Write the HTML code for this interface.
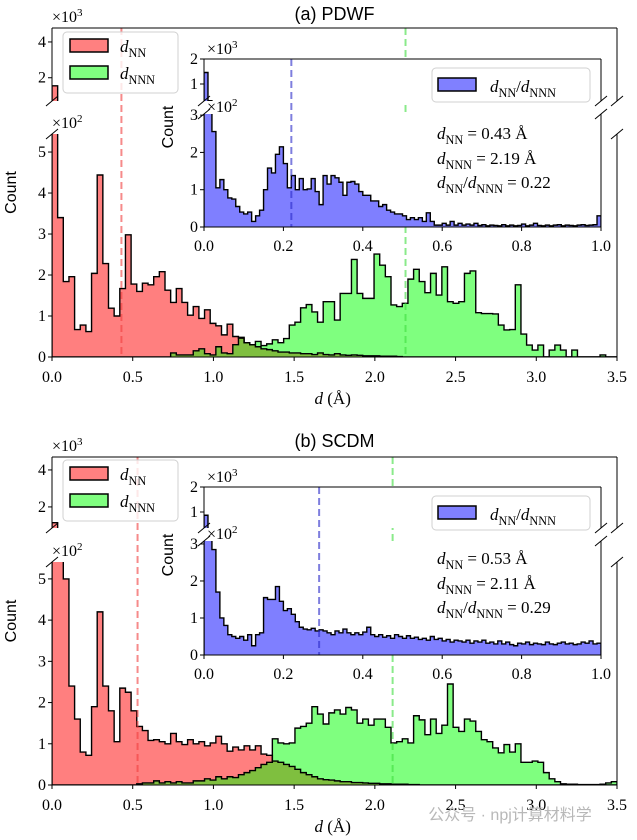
<!DOCTYPE html>
<html><head><meta charset="utf-8">
<style>
html,body{margin:0;padding:0;background:#fff;}
svg{display:block;}
text{font-family:"Liberation Serif",serif;}
.sans{font-family:"Liberation Sans","DejaVu Sans",sans-serif;}
</style></head>
<body>
<svg id="chart" width="637" height="840" viewBox="0 0 637 840" xmlns="http://www.w3.org/2000/svg"></svg>
<script>
// ---------- data (counts in hundreds, 100 bins each) ----------
const mainBinMax = 3.5;
const insetBinMax = 1.0;
const mainTicks = ["0.0","0.5","1.0","1.5","2.0","2.5","3.0","3.5"];
const mainTickVals = [0,0.5,1,1.5,2,2.5,3,3.5];
const insetTicks = ["0.0","0.2","0.4","0.6","0.8","1.0"];
const insetTickVals = [0,0.2,0.4,0.6,0.8,1.0];
const lowerYTicks = [0,1,2,3,4,5];
const upperYTicks = [2,4];
const insetLowerYTicks = [0,1,2,3];
const insetUpperYTicks = [1,2];

const pdwfNN = [15.5,3.4,1.84,1.96,0.67,0.78,0.62,2.04,4.44,2.28,1.19,1.0,1.67,2.98,1.78,1.6,1.8,1.76,1.96,2.08,1.63,1.33,1.67,1.33,1.02,1.23,0.94,1.15,0.82,0.76,0.54,0.8,0.5,0.46,0.35,0.3,0.25,0.2,0.18,0.15,0.12,0.12,0.1,0.1,0.08,0.08,0.06,0.1,0.06,0.05,0.08,0.05,0.04,0.05,0.04,0.03,0.03,0.03,0.02,0.02,0.02,0.01,0,0,0,0,0,0,0,0,0,0,0,0,0,0,0,0,0,0,0,0,0,0,0,0,0,0,0,0,0,0,0,0,0,0,0,0,0,0];
const pdwfNNN = [0,0,0,0,0,0,0,0,0,0,0,0,0,0,0,0,0,0,0,0,0,0.1,0.05,0.05,0.05,0.15,0.2,0.08,0.05,0.25,0.1,0.08,0.3,0.48,0.35,0.3,0.38,0.28,0.32,0.42,0.35,0.45,0.78,0.85,1.2,1.28,1.1,0.85,1.35,1.35,0.9,1.55,1.55,2.38,1.55,1.43,1.43,2.51,2.24,1.96,1.27,1.23,1.31,1.9,2.14,1.84,1.57,2.04,1.51,2.2,1.35,1.31,1.35,2.04,2.1,1.08,1.06,1.06,1.05,0.78,0.66,0.67,1.76,0.56,0.29,0.17,0.29,0,0.17,0.29,0.17,0,0.17,0,0,0,0,0.05,0,0];
const pdwfRatio = [14.6,3.3,2.56,1.05,1.27,1.0,0.78,0.75,0.55,0.4,0.35,0.4,0.15,0.3,0.45,1.0,1.58,1.45,1.95,2.15,1.7,1.05,1.38,1.0,1.3,1.0,1.02,1.3,0.95,0.6,1.38,1.15,1.38,1.32,1.2,0.85,1.2,1.22,1.15,0.95,0.85,0.85,0.7,0.7,0.55,0.6,0.45,0.4,0.35,0.35,0.3,0.2,0.25,0.2,0.25,0.15,0.38,0.15,0.05,0.05,0.1,0.05,0.15,0.05,0.1,0.05,0.08,0.05,0.1,0.04,0.06,0.03,0.05,0.04,0.03,0.06,0.03,0.05,0.03,0.04,0.08,0.03,0.05,0.1,0.04,0.03,0.05,0.03,0.05,0.06,0.03,0.05,0.04,0.03,0.05,0.06,0.04,0.05,0.06,0.3];

const scdmNN = [11.5,5.45,5.0,2.4,1.6,0.8,0.72,1.9,4.2,2.4,1.8,1.05,2.35,2.25,1.8,1.42,1.32,1.08,1.1,1.05,1.0,1.25,1.05,0.98,1.1,1.0,1.05,0.95,1.02,1.18,1.0,0.82,0.92,0.85,0.95,0.85,0.95,0.75,0.72,0.58,0.55,0.5,0.45,0.38,0.3,0.25,0.2,0.15,0.13,0.12,0.1,0.08,0.08,0.06,0.06,0.05,0.04,0.04,0.03,0.03,0.02,0.02,0.02,0.01,0.01,0,0,0,0,0,0,0,0,0,0,0,0,0,0,0,0,0,0,0,0,0,0,0,0,0,0,0,0,0,0,0,0,0,0,0];
const scdmNNN = [0,0,0,0,0,0,0,0,0,0,0,0,0,0,0,0.03,0.05,0.05,0.1,0.05,0.08,0.05,0.08,0.05,0.05,0.1,0.1,0.15,0.12,0.2,0.15,0.2,0.18,0.25,0.3,0.35,0.42,0.5,0.55,1.12,1.02,1.0,1.02,1.38,1.42,1.5,1.9,1.72,1.48,1.75,1.82,1.72,1.88,1.82,1.5,1.6,1.45,1.6,1.6,1.4,1.02,1.05,1.12,1.02,1.68,1.58,1.22,1.6,1.25,1.45,2.45,1.4,1.3,1.6,1.55,1.3,1.1,1.05,0.9,0.78,0.98,0.8,1.0,0.55,0.55,0.58,0.55,0.3,0.15,0.08,0.03,0.02,0.02,0.01,0.01,0.01,0.01,0.02,0.05,0.08];
const scdmRatio = [8.7,3.3,2.85,1.7,1.0,0.8,0.55,0.5,0.45,0.5,0.4,0.55,0.25,0.55,0.6,1.55,1.5,1.5,1.85,1.45,1.2,1.25,1.1,0.9,0.75,0.7,0.68,0.72,0.65,0.68,0.65,0.6,0.55,0.65,0.6,0.7,0.6,0.55,0.6,0.55,0.62,0.75,0.55,0.5,0.55,0.48,0.52,0.45,0.55,0.5,0.45,0.52,0.45,0.48,0.42,0.45,0.4,0.5,0.42,0.45,0.38,0.42,0.35,0.4,0.38,0.35,0.4,0.32,0.38,0.35,0.4,0.32,0.35,0.3,0.38,0.3,0.35,0.28,0.25,0.32,0.3,0.35,0.28,0.32,0.3,0.28,0.35,0.3,0.28,0.32,0.35,0.3,0.32,0.28,0.3,0.35,0.32,0.38,0.3,0.32];

const pdwfMeans = [0.43, 2.19, 0.22];
const scdmMeans = [0.53, 2.11, 0.29];

// ---------- drawing ----------
const svg = document.getElementById('chart');
const NS = 'http://www.w3.org/2000/svg';
let clipId = 0;
function el(tag, attrs, parent){
  const e = document.createElementNS(NS, tag);
  for (const k in attrs) e.setAttribute(k, attrs[k]);
  (parent||svg).appendChild(e);
  return e;
}
function txt(x,y,s,size,anchor,parent,cls){
  const t = el('text',{x:x,y:y,'font-size':size,'text-anchor':anchor||'middle',fill:'#000'},parent);
  if (cls) t.setAttribute('class',cls);
  t.textContent = s;
  return t;
}
function subText(parent,x,y,size,parts,anchor){
  const t = el('text',{x:x,y:y,'font-size':size,'text-anchor':anchor||'start',fill:'#000'},parent);
  let sub=false;
  parts.forEach(p=>{
    const s = document.createElementNS(NS,'tspan');
    if (p[1]) s.setAttribute('font-style','italic');
    if (p[2] && !sub){ s.setAttribute('dy', size*0.28); s.setAttribute('font-size', size*0.72); sub=true; }
    else if (!p[2] && sub){ s.setAttribute('dy', -size*0.28); sub=false; }
    else if (p[2]) s.setAttribute('font-size', size*0.72);
    s.textContent = p[0];
    t.appendChild(s);
  });
  return t;
}
function makeX(x0,x1,max){ return v => x0 + (x1-x0)*v/max; }
function makeY(seg){ return v => seg.bottom - (seg.bottom-seg.top)*(v-seg.vBot)/(seg.vTop-seg.vBot); }

function histPath(vals, X, Y, xmax, baseY){
  const n = vals.length, w = xmax/n;
  let d = 'M'+X(0)+','+baseY;
  for (let i=0;i<n;i++){
    const y = Math.min(Y(vals[i]), baseY);
    d += ' L'+X(i*w)+','+y+' L'+X((i+1)*w)+','+y;
  }
  d += ' L'+X(xmax)+','+baseY;
  return d;
}

function drawSegment(g, seg, X, xmax, series, isUpper, name){
  const id = 'clip'+(clipId++);
  const cp = el('clipPath',{id:id},g);
  el('rect',{x:seg.x0,y:seg.top,width:seg.x1-seg.x0,height:seg.bottom-seg.top},cp);
  const Y = makeY(seg);
  const hg = el('g',{'clip-path':'url(#'+id+')'},g);
  
  
  const base = isUpper ? seg.bottom+5 : Y(0);
  series.forEach(s=>{
    const p = el('path',{d:histPath(s.vals,X,Y,xmax,base),fill:s.fill,stroke:'none'},hg);
    
    
  });
  series.forEach(s=>{
    const p = el('path',{d:histPath(s.vals,X,Y,xmax,base),fill:'none',stroke:'#000','stroke-width':1.4},hg);
    
    
  });
  return Y;
}

function spines(g, seg, isUpper){
  const a = {stroke:'#000','stroke-width':1,fill:'none'};
  el('line',Object.assign({x1:seg.x0,y1:seg.top,x2:seg.x0,y2:seg.bottom},a),g);
  el('line',Object.assign({x1:seg.x1,y1:seg.top,x2:seg.x1,y2:seg.bottom},a),g);
  if (isUpper) el('line',Object.assign({x1:seg.x0,y1:seg.top,x2:seg.x1,y2:seg.top},a),g);
  else el('line',Object.assign({x1:seg.x0,y1:seg.bottom,x2:seg.x1,y2:seg.bottom},a),g);
  const yb = isUpper ? seg.bottom : seg.top;
  [seg.x0,seg.x1].forEach(x=>{
    el('line',{x1:x-6,y1:yb+5,x2:x+6,y2:yb-5,stroke:'#000','stroke-width':1},g);
  });
}

function yTicks(g, seg, ticks, Y, size){
  ticks.forEach(t=>{
    const y = Y(t);
    el('line',{x1:seg.x0-4,y1:y,x2:seg.x0,y2:y,stroke:'#000','stroke-width':1},g);
    const lb = txt(seg.x0-6,y+5,String(t),size,'end',g);
    
    
  });
}
function xTicks(g, seg, vals, labels, X, size, ly){
  vals.forEach((v,i)=>{
    const x = X(v);
    el('line',{x1:x,y1:seg.bottom,x2:x,y2:seg.bottom+4,stroke:'#000','stroke-width':1},g);
    const lb = txt(x,ly,labels[i],size,'middle',g);
    
    
  });
}
function offsetLabel(g,x,y,exp){
  const t = el('text',{x:x,y:y,'font-size':16,'text-anchor':'start',fill:'#000'},g);
  const a = document.createElementNS(NS,'tspan'); a.textContent='×10'; t.appendChild(a);
  const b = document.createElementNS(NS,'tspan'); b.setAttribute('dy',-6); b.setAttribute('font-size',11); b.textContent=exp; t.appendChild(b);
  
  
}

function panel(cfg){
  const g = el('g',{});
  
  
  const X = makeX(cfg.x0,cfg.x1,mainBinMax);
  const up = Object.assign({x0:cfg.x0,x1:cfg.x1},cfg.upper);
  const lo = Object.assign({x0:cfg.x0,x1:cfg.x1},cfg.lower);
  const series = [
    {vals:cfg.nn, fill:'rgba(255,0,0,0.5)', name:'d-nn-histogram'},
    {vals:cfg.nnn, fill:'rgba(0,255,0,0.5)', name:'d-nnn-histogram'}];
  const Yu = drawSegment(g, up, X, mainBinMax, series, true, 'upper-main');
  const Yl = drawSegment(g, lo, X, mainBinMax, series, false, 'lower-main');
  const mcol = ['rgba(240,60,60,0.6)','rgba(60,220,60,0.6)'];
  [0,1].forEach(i=>{
    const x = X(cfg.means[i]);
    const ln = el('line',{x1:x,y1:up.top,x2:x,y2:lo.bottom,stroke:mcol[i],'stroke-width':2,'stroke-dasharray':'7,4'},g);
    
    
  });
  spines(g,up,true); spines(g,lo,false);
  yTicks(g,up,upperYTicks.map(v=>v*10),Yu,16);
  g.querySelectorAll('text').forEach(t=>{ if(t.textContent==='20') t.textContent='2'; if(t.textContent==='40') t.textContent='4'; });
  yTicks(g,lo,lowerYTicks,Yl,16);
  xTicks(g,lo,mainTickVals,mainTicks,X,16,lo.bottom+25);
  offsetLabel(g,cfg.x0,up.top-6,'3');
  offsetLabel(g,cfg.x0,lo.top-6,'2');
  const tt = txt((cfg.x0+cfg.x1)/2, cfg.titleY, cfg.title, 18,'middle',g,'sans');
   
  const yl = txt(0,0,'Count',16,'middle',g,'sans');
  yl.setAttribute('transform','translate('+(cfg.x0-36)+','+((up.top+lo.bottom)/2)+') rotate(-90)');
   
  const xl = subText(g,(cfg.x0+cfg.x1)/2-20,lo.bottom+47,17,[['d',true,false],[' (Å)',false,false]],'start');
   

  const lg = el('g',{},g);
   
  const L = cfg.legend;
  el('rect',{x:L.x,y:L.y,width:115,height:61,rx:4,fill:'rgba(255,255,255,0.8)',stroke:'#d0d0d0'},lg);
  el('rect',{x:L.x+7,y:L.y+7,width:38,height:13,fill:'#ff8080',stroke:'#000','stroke-width':1.5},lg);
  el('rect',{x:L.x+7,y:L.y+34,width:38,height:13,fill:'#80ff80',stroke:'#000','stroke-width':1.5},lg);
  subText(lg,L.x+57,L.y+20,17,[['d',true,false],['NN',false,true]]);
  subText(lg,L.x+57,L.y+47,17,[['d',true,false],['NNN',false,true]]);

  const ig = el('g',{},g);
   
  const IX = makeX(cfg.ix0,cfg.ix1,insetBinMax);
  const iu = Object.assign({x0:cfg.ix0,x1:cfg.ix1},cfg.iupper);
  const il = Object.assign({x0:cfg.ix0,x1:cfg.ix1},cfg.ilower);
  el('rect',{x:iu.x0,y:iu.top,width:iu.x1-iu.x0,height:iu.bottom-iu.top,fill:'#fff'},ig);
  el('rect',{x:il.x0,y:il.top,width:il.x1-il.x0,height:il.bottom-il.top,fill:'#fff'},ig);
  const iser = [{vals:cfg.ratio, fill:'rgba(0,0,255,0.5)', name:'ratio-histogram'}];
  const IYu = drawSegment(ig,iu,IX,insetBinMax,iser,true,'inset-upper');
  const IYl = drawSegment(ig,il,IX,insetBinMax,iser,false,'inset-lower');
  const bx = IX(cfg.means[2]);
  const bl = el('line',{x1:bx,y1:iu.top,x2:bx,y2:il.bottom,stroke:'rgba(40,40,200,0.6)','stroke-width':2,'stroke-dasharray':'7,4'},ig);
   
  spines(ig,iu,true); spines(ig,il,false);
  yTicks(ig,iu,insetUpperYTicks.map(v=>v*10),IYu,16);
  ig.querySelectorAll('text').forEach(t=>{ if(t.textContent==='10') t.textContent='1'; if(t.textContent==='20') t.textContent='2'; });
  yTicks(ig,il,insetLowerYTicks,IYl,16);
  xTicks(ig,il,insetTickVals,insetTicks,IX,16,il.bottom+24);
  offsetLabel(ig,cfg.ix0+3,iu.top-5,'3');
  offsetLabel(ig,cfg.ix0+3,il.top-2,'2');
  const iyl = txt(0,0,'Count',16,'middle',ig,'sans');
  iyl.setAttribute('transform','translate('+(cfg.ix0-31)+','+(iu.top+68)+') rotate(-90)');
   
  const il2 = el('g',{},ig);
   
  const IL = cfg.ilegend;
  el('rect',{x:IL.x,y:IL.y,width:158,height:34,rx:4,fill:'rgba(255,255,255,0.8)',stroke:'#d0d0d0'},il2);
  el('rect',{x:IL.x+6,y:IL.y+10,width:38,height:13,fill:'#8080ff',stroke:'#000','stroke-width':1.5},il2);
  subText(il2,IL.x+58,IL.y+24,17,[['d',true,false],['NN',false,true],['/',false,false],['d',true,false],['NNN',false,true]]);
  const an = el('g',{},ig);
   
  const A = cfg.annot;
  subText(an,A.x,A.y,17,[['d',true,false],['NN',false,true],[' = '+cfg.means[0].toFixed(2)+' Å',false,false]]);
  subText(an,A.x,A.y+25,17,[['d',true,false],['NNN',false,true],[' = '+cfg.means[1].toFixed(2)+' Å',false,false]]);
  subText(an,A.x,A.y+49,17,[['d',true,false],['NN',false,true],['/',false,false],['d',true,false],['NNN',false,true],[' = '+cfg.means[2].toFixed(2),false,false]]);
}

panel({name:'panel-a-pdwf', title:'(a) PDWF', titleY:20, x0:52, x1:617,
  upper:{top:28, bottom:101, vTop:47.8, vBot:7.0},
  lower:{top:134, bottom:357, vTop:5.44, vBot:0},
  nn:pdwfNN, nnn:pdwfNNN, ratio:pdwfRatio, means:pdwfMeans,
  legend:{x:63,y:32},
  ix0:204, ix1:601,
  iupper:{top:59, bottom:101, vTop:20, vBot:3.2},
  ilower:{top:114, bottom:227, vTop:3.03, vBot:0},
  ilegend:{x:432,y:68}, annot:{x:437,y:139}});

panel({name:'panel-b-scdm', title:'(b) SCDM', titleY:447, x0:52, x1:617,
  upper:{top:457, bottom:528, vTop:47.0, vBot:8.6},
  lower:{top:562, bottom:785, vTop:5.41, vBot:0},
  nn:scdmNN, nnn:scdmNNN, ratio:scdmRatio, means:scdmMeans,
  legend:{x:63,y:460},
  ix0:204, ix1:601,
  iupper:{top:487, bottom:528, vTop:20, vBot:3.6},
  ilower:{top:541, bottom:655, vTop:3.08, vBot:0},
  ilegend:{x:432,y:496}, annot:{x:437,y:564}});

const wm = txt(510,820,'公众号 · npj计算材料学',16,'middle',svg,'sans');
wm.setAttribute('fill','#b8b8b8');
wm.setAttribute('style','font-family:"Liberation Sans","Noto Sans CJK SC",sans-serif');


</script>
</body></html>
